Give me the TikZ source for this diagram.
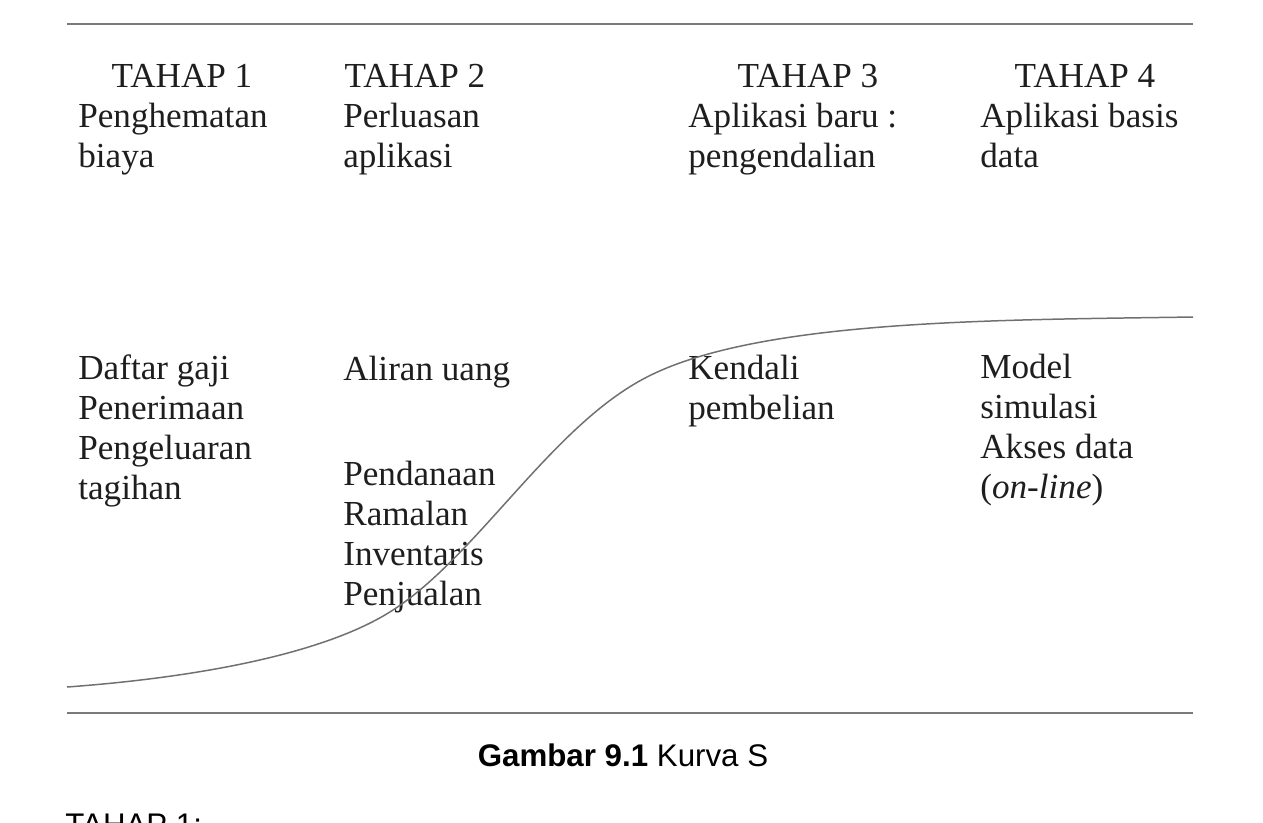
\documentclass[tikz,border=0pt]{standalone}
\usepackage{fontspec}
\setmainfont{Liberation Serif}
\setsansfont{Liberation Sans}
\usetikzlibrary{positioning}
\definecolor{Ink}{HTML}{1E1E1E}
\definecolor{Rule}{HTML}{7A7A7A}
\definecolor{Curve}{HTML}{707070}

\begin{document}
\begin{tikzpicture}[
  x=0.02cm,y=-0.02cm,
  head/.style={anchor=base,inner sep=0pt,text=Ink,font=\fontsize{20}{22.6}\selectfont},
  txt/.style={anchor=base west,inner sep=0pt,align=left,text=Ink,font=\fontsize{20}{22.6}\selectfont},
  caption/.style={anchor=base,inner sep=0pt,text=black,font=\sffamily\fontsize{17.8}{21}\selectfont},
  rule/.style={draw=Rule,line width=1.1pt},
  scurve/.style={draw=Curve,line width=0.85pt}
]
\useasboundingbox (0,0) rectangle (1263,822);
\clip (0,0) rectangle (1263,822);

% rules
\coordinate (tl) at (67,24);
\coordinate (tr) at (1193,24);
\coordinate (bl) at (67,713);
\coordinate (br) at (1193,713);
\draw[rule] (tl) -- (tr);
\draw[rule] (bl) -- (br);

% stage headings (base = last line)
\node[head] (h1) at (182,87) {TAHAP 1};
\node[head] (h2) at (415,87) {TAHAP 2};
\node[head] (h3) at (808,87) {TAHAP 3};
\node[head] (h4) at (1085,87) {TAHAP 4};
\node[txt] (s1) at (78,167) {Penghematan\\biaya};
\node[txt] (s2) at (343,167) {Perluasan\\aplikasi};
\node[txt] (s3) at (688,167) {Aplikasi baru :\\pengendalian};
\node[txt] (s4) at (980,167) {Aplikasi basis\\data};

% applications
\node[txt] (a1) at (78,499) {Daftar gaji\\Penerimaan\\Pengeluaran\\tagihan};
\node[txt] (a2) at (343,380) {Aliran uang};
\node[txt] (a3) at (343,605) {Pendanaan\\Ramalan\\Inventaris\\Penjualan};
\node[txt] (a4) at (688,419) {Kendali\\pembelian};
\node[txt] (a5) at (980,498) {Model\\simulasi\\Akses data\\(\textit{on-line})};

% S curve
\coordinate (k0) at (67,687);
\coordinate (k1) at (393,610);
\coordinate (k2) at (647,377);
\coordinate (k3) at (1193,317);
\draw[scurve] (k0) .. controls (190,678) and (323,655.5) .. (k1)
  .. controls (478,555) and (552,425.5) .. (k2)
  .. controls (760,319) and (1000,320) .. (k3);

% caption
\node[caption] (cap) at (623,766) {\textbf{Gambar 9.1} Kurva S};
\node[caption,anchor=base west] (next) at (65,835) {TAHAP 1:};
\end{tikzpicture}
\end{document}
